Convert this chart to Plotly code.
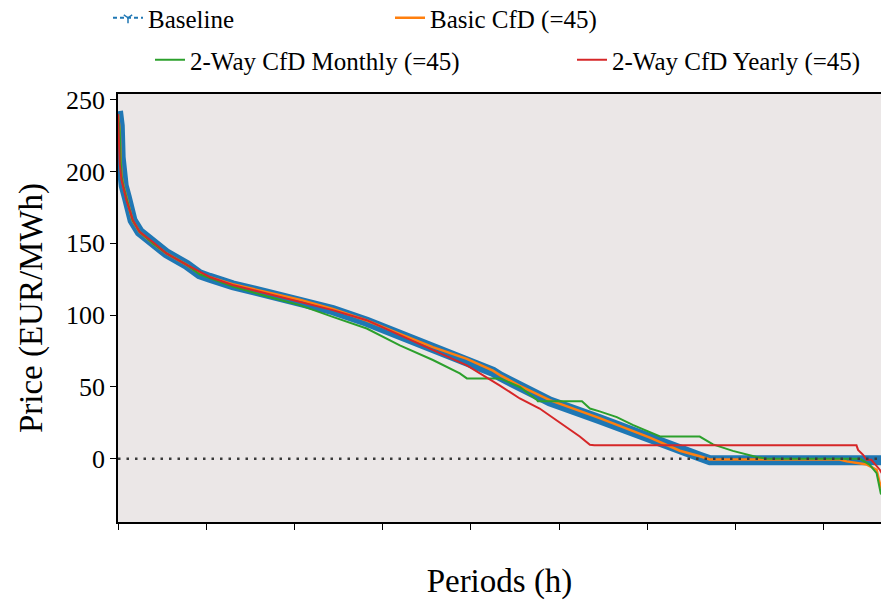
import plotly.graph_objects as go

# ---- data (hours, EUR/MWh) ----
base_x = [0, 20, 30, 40, 65, 100, 165, 245, 395, 550, 780, 925, 1040, 1300, 1690, 2060,
          2435, 2820, 3195, 3570, 3955, 4250, 4330, 4555, 4895, 5460, 6030, 6370, 6595,
          6710, 8760]
base_y = [242, 232, 210, 198, 190, 182, 166, 158, 150, 143, 135, 128.5, 126, 120.8, 115, 110,
          103.5, 95.4, 86, 76.8, 68.8, 60.6, 57.5, 50, 40, 27.5, 14, 5, 1.5, -1, -1]

basic_x = [0, 20, 30, 40, 65, 100, 165, 245, 395, 550, 780, 925, 1040, 1300, 1690, 2060,
           2435, 2820, 3195, 3570, 3955, 4250, 4330, 4555, 4895, 5460, 6030, 6370, 6595,
           6710, 8180, 8260, 8490, 8600, 8636, 8700]
basic_y = [240, 228, 208, 197, 189, 181, 166, 158, 150, 143, 135, 129, 126.5, 121.5, 115.8, 110.8,
           104.3, 96.3, 87, 77.8, 69.6, 61.4, 58.3, 50.8, 40.8, 28.3, 14.8, 5.6, 1.8, -0.5,
           -0.5, -1.8, -4, -7.6, -17, -28]

monthly_x = [0, 20, 30, 40, 65, 100, 165, 245, 395, 550, 780, 925, 1040, 1300, 1690, 2060,
             2435, 2820, 3195, 3570, 3875, 3955, 4330, 4555, 4750, 4760, 5260, 5350, 5460,
             5655, 5835, 5915, 6145, 6595, 6745, 6970, 7240, 7355, 8410, 8520, 8600, 8647, 8700]
monthly_y = [240, 228, 208, 197, 189, 181, 166, 158, 150, 143, 135, 128.5, 126, 120, 113, 107,
             98.8, 90.7, 79, 68.8, 59.5, 56, 56, 50, 41, 40, 40, 35, 33,
             29, 23.6, 21.5, 15.5, 15.5, 10, 5.5, 1.2, 0, 0, -4, -10, -24, -28]

yearly_x = [0, 10, 20, 40, 95, 170, 245, 395, 550, 780, 1040, 1300, 1690, 2060, 2435, 2820,
            3195, 3570, 3955, 4330, 4555, 4780, 5010, 5235, 5350, 5400, 8372, 8390, 8447,
            8485, 8540, 8570, 8600, 8636, 8760]
yearly_y = [240, 225, 205, 194, 180, 166, 158, 151, 143, 135, 126.6, 121, 115, 109.5, 103.5, 96.5,
            86, 75.7, 65, 51, 42, 35, 25, 15.5, 9.7, 9.4, 9.4, 6.2, 2.8,
            -0.7, -0.7, -3, -5.3, -7.6, -20]

names = ["Baseline", "Basic CfD (=45)", "2-Way CfD Monthly (=45)", "2-Way CfD Yearly (=45)"]
colors = ["#1f77b4", "#ff7f0e", "#2ca02c", "#d62728"]

x_ticks = [0, 1000, 2000, 3000, 4000, 5000, 6000, 7000, 8000]
y_ticks = [0, 50, 100, 150, 200, 250]

FONT = "Liberation Serif, Times New Roman, serif"

fig = go.Figure()

# Baseline: dense band (drawn thick), legend entry shown by a separate dashed/marker item
fig.add_trace(go.Scatter(x=base_x, y=base_y, mode="lines", line=dict(color=colors[0], width=10),
                         showlegend=False, hoverinfo="skip"))
fig.add_trace(go.Scatter(x=[None], y=[None], mode="lines+markers", name=names[0],
                         line=dict(color=colors[0], width=2, dash="4px,3px"),
                         marker=dict(symbol="y-down-open", size=7,
                                     line=dict(color=colors[0], width=1.5)),
                         legend="legend"))
fig.add_trace(go.Scatter(x=basic_x, y=basic_y, mode="lines", name=names[1],
                         line=dict(color=colors[1], width=2.5), legend="legend2"))
fig.add_trace(go.Scatter(x=monthly_x, y=monthly_y, mode="lines", name=names[2],
                         line=dict(color=colors[2], width=2), legend="legend3"))
fig.add_trace(go.Scatter(x=yearly_x, y=yearly_y, mode="lines", name=names[3],
                         line=dict(color=colors[3], width=2), legend="legend4"))

fig.add_hline(y=0, line=dict(color="#3a3a3a", width=2.5, dash="2.5px,6px"), layer="above")

W, H = 881, 600
def leg(text_left, y_center):
    return dict(xref="container", yref="container", x=(text_left - 40) / W,
                y=1 - (y_center - 2) / H, xanchor="left", yanchor="middle",
                bgcolor="rgba(0,0,0,0)", font=dict(family=FONT, size=25, color="black"),
                orientation="h")

fig.update_layout(
    width=W, height=H,
    margin=dict(l=118, r=0, t=94, b=78, autoexpand=False),
    paper_bgcolor="white",
    plot_bgcolor="#ebe7e7",
    font=dict(family=FONT, color="black"),
    legend=leg(148, 20),
    legend2=leg(430, 20),
    legend3=leg(190, 62),
    legend4=leg(612, 62),
    xaxis=dict(range=[0, 8650], tickvals=x_ticks, showticklabels=False, automargin=False,
               ticks="outside", ticklen=6, tickwidth=1.2, tickcolor="black",
               showline=True, linecolor="black", linewidth=1.5, mirror=True,
               showgrid=False, zeroline=False,
               title=dict(text="Periods (h)", font=dict(family=FONT, size=33), standoff=40)),
    yaxis=dict(range=[-44, 254], tickvals=y_ticks, ticks="outside", ticklen=6, automargin=False,
               tickwidth=1.2, tickcolor="black", tickfont=dict(family=FONT, size=26),
               showline=True, linecolor="black", linewidth=1.5,
               showgrid=False, zeroline=False,
               title=dict(text="Price (EUR/MWh)", font=dict(family=FONT, size=33), standoff=13)),
)

fig.write_html("out.html", config={"displayModeBar": False},
               post_script="document.body.style.margin='0px';document.body.style.overflow='hidden';")
